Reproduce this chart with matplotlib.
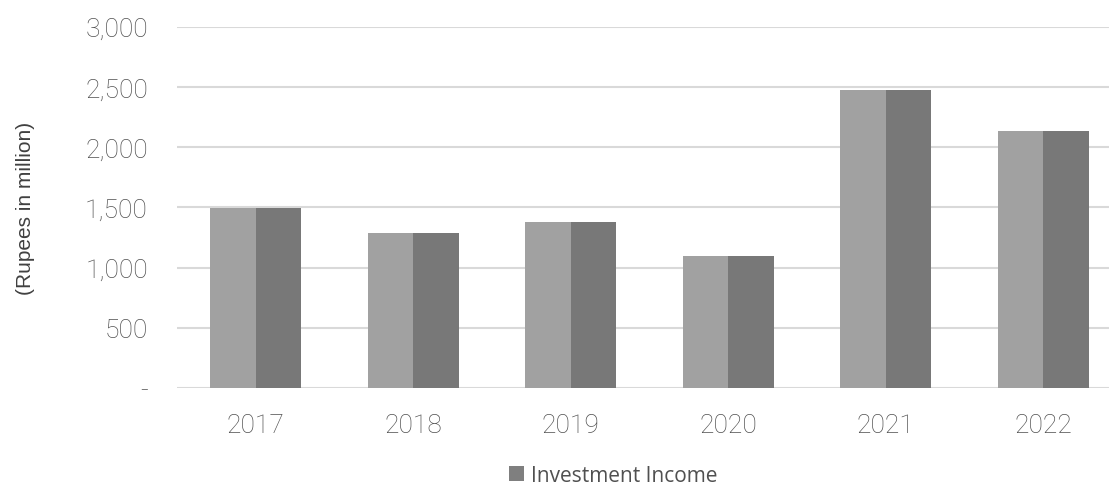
import matplotlib
matplotlib.use("Agg")
import matplotlib.pyplot as plt
from matplotlib.patches import Patch
import numpy as np

years = ["2017", "2018", "2019", "2020", "2021", "2022"]
investment_income = [1494, 1285, 1375, 1093, 2475, 2132]
y_ticks = [0, 500, 1000, 1500, 2000, 2500, 3000]
y_tick_labels = ["-", "500", "1,000", "1,500", "2,000", "2,500", "3,000"]

LIGHT = "#a1a1a1"
DARK = "#787878"
TEXT = "#505050"
GRID = "#d9d9d9"

fig = plt.figure(figsize=(11.09, 4.85), dpi=100)
ax = fig.add_axes([0.1596, 0.198, 0.8521, 0.745])

x = np.arange(len(years))
half = 0.2875
# each column is drawn as a lighter left face and a darker right face
ax.bar(x - half, investment_income, width=half, align="edge", color=LIGHT, zorder=2)
ax.bar(x, investment_income, width=half, align="edge", color=DARK, zorder=2)

ax.set_xlim(-0.5, len(years) - 0.5)
ax.set_ylim(0, 3000)
ax.set_yticks(y_ticks)
ax.set_yticklabels(y_tick_labels)
ax.set_xticks(x)
ax.set_xticklabels(years)

for lab in ax.get_yticklabels() + ax.get_xticklabels():
    lab.set_fontfamily("Roboto")
    lab.set_fontweight("light")
    lab.set_fontsize(19)
    lab.set_color(TEXT)

ax.tick_params(axis="both", length=0)
ax.tick_params(axis="y", pad=21)
ax.tick_params(axis="x", pad=18)

ax.grid(axis="y", color=GRID, linewidth=1.5, zorder=0)
for s in ax.spines.values():
    s.set_visible(False)

ax.set_ylabel("(Rupees in million)", fontfamily="Liberation Sans",
              fontsize=15, color="#404040", labelpad=36)

handle = Patch(facecolor="#7f7f7f", edgecolor="none")
fig.legend([handle], ["Investment Income"], loc="center", bbox_to_anchor=(0.553, 0.018),
           frameon=False, prop={"family": "Open Sans", "size": 15},
           labelcolor=TEXT, handlelength=0.75, handleheight=0.75, handletextpad=0.35)

fig.savefig("out.png", dpi=100, facecolor="white")
